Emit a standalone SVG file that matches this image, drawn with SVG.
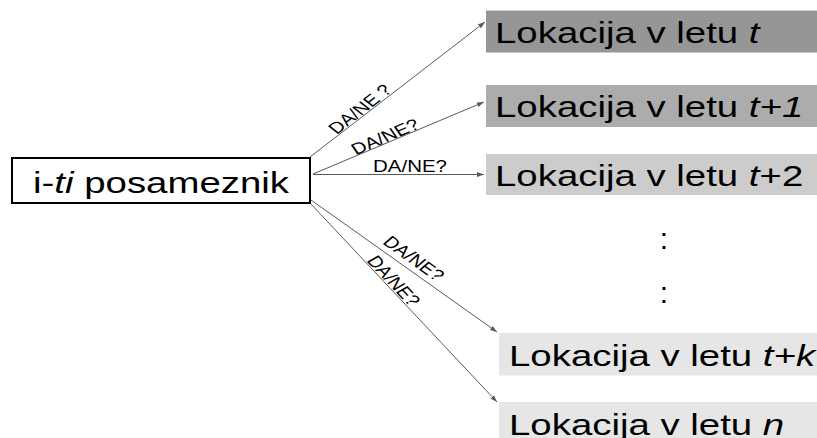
<svg xmlns="http://www.w3.org/2000/svg" width="817" height="438" viewBox="0 0 817 438">
  <defs>
    <style>
      .big { font-family: "Liberation Sans", Arial, sans-serif; font-size: 30px; fill: #000; }
      .lbl { font-family: "Liberation Sans", Arial, sans-serif; font-size: 16px; fill: #000; text-anchor: middle; }
      .conn { stroke: #5a5a5a; stroke-width: 1; fill: none; marker-end: url(#arr); }
      .it { font-style: italic; }
    </style>
    <marker id="arr" markerUnits="userSpaceOnUse" markerWidth="8" markerHeight="6" refX="7" refY="3" orient="auto">
      <path d="M0,0.5 L7,3 L0,5.5 z" fill="#5a5a5a"/>
    </marker>
  </defs>
  <rect width="817" height="438" fill="#ffffff"/>

  <g id="connectors">
    <line class="conn" x1="310" y1="157" x2="485" y2="22"/>
    <line class="conn" x1="313" y1="174" x2="484" y2="102"/>
    <line class="conn" x1="313" y1="174.5" x2="484" y2="174.5"/>
    <line class="conn" x1="311" y1="200" x2="497" y2="332"/>
    <line class="conn" x1="310" y1="203" x2="497" y2="402"/>
    <text class="lbl" transform="translate(365,113) scale(1.28,1) rotate(-45)">DA/NE ?</text>
    <text class="lbl" transform="translate(388.5,141.5) scale(1.28,1) rotate(-28.3)">DA/NE?</text>
    <text class="lbl" transform="translate(410,171.7) scale(1.28,1)">DA/NE?</text>
    <text class="lbl" transform="translate(409,262.5) scale(1.28,1) rotate(42.3)">DA/NE?</text>
    <text class="lbl" transform="translate(388,284) scale(1.28,1) rotate(53.7)">DA/NE?</text>
  </g>

  <g id="posameznik">
    <rect x="12" y="158" width="298" height="45" fill="#ffffff" stroke="#000" stroke-width="2"/>
    <text class="big" text-anchor="middle" transform="translate(161,193) scale(1.28,1)">i-<tspan class="it">ti</tspan> posameznik</text>
  </g>

  <g id="loc-t">
    <rect x="486" y="10.5" width="331" height="42" fill="#969696"/>
    <text class="big" transform="translate(495,42.5) scale(1.28,1)">Lokacija v letu <tspan class="it">t</tspan></text>
  </g>
  <g id="loc-t1">
    <rect x="486" y="85" width="331" height="42" fill="#acacac"/>
    <text class="big" transform="translate(495,116.5) scale(1.28,1)">Lokacija v letu <tspan class="it">t+1</tspan></text>
  </g>
  <g id="loc-t2">
    <rect x="486" y="154" width="331" height="41" fill="#cccccc"/>
    <text class="big" transform="translate(495,185.5) scale(1.28,1)">Lokacija v letu <tspan class="it">t</tspan>+2</text>
  </g>

  <g id="dots">
    <text class="big" text-anchor="middle" x="664" y="249">:</text>
    <text class="big" text-anchor="middle" x="664" y="302.5">:</text>
  </g>

  <g id="loc-tk">
    <rect x="499" y="333" width="318" height="42.5" fill="#e6e6e6"/>
    <text class="big" transform="translate(509,365.5) scale(1.28,1)">Lokacija v letu <tspan class="it">t+k</tspan></text>
  </g>
  <g id="loc-n">
    <rect x="499" y="402" width="318" height="40" fill="#e6e6e6"/>
    <text class="big" transform="translate(509,435) scale(1.28,1)">Lokacija v letu <tspan class="it">n</tspan></text>
  </g>
</svg>
